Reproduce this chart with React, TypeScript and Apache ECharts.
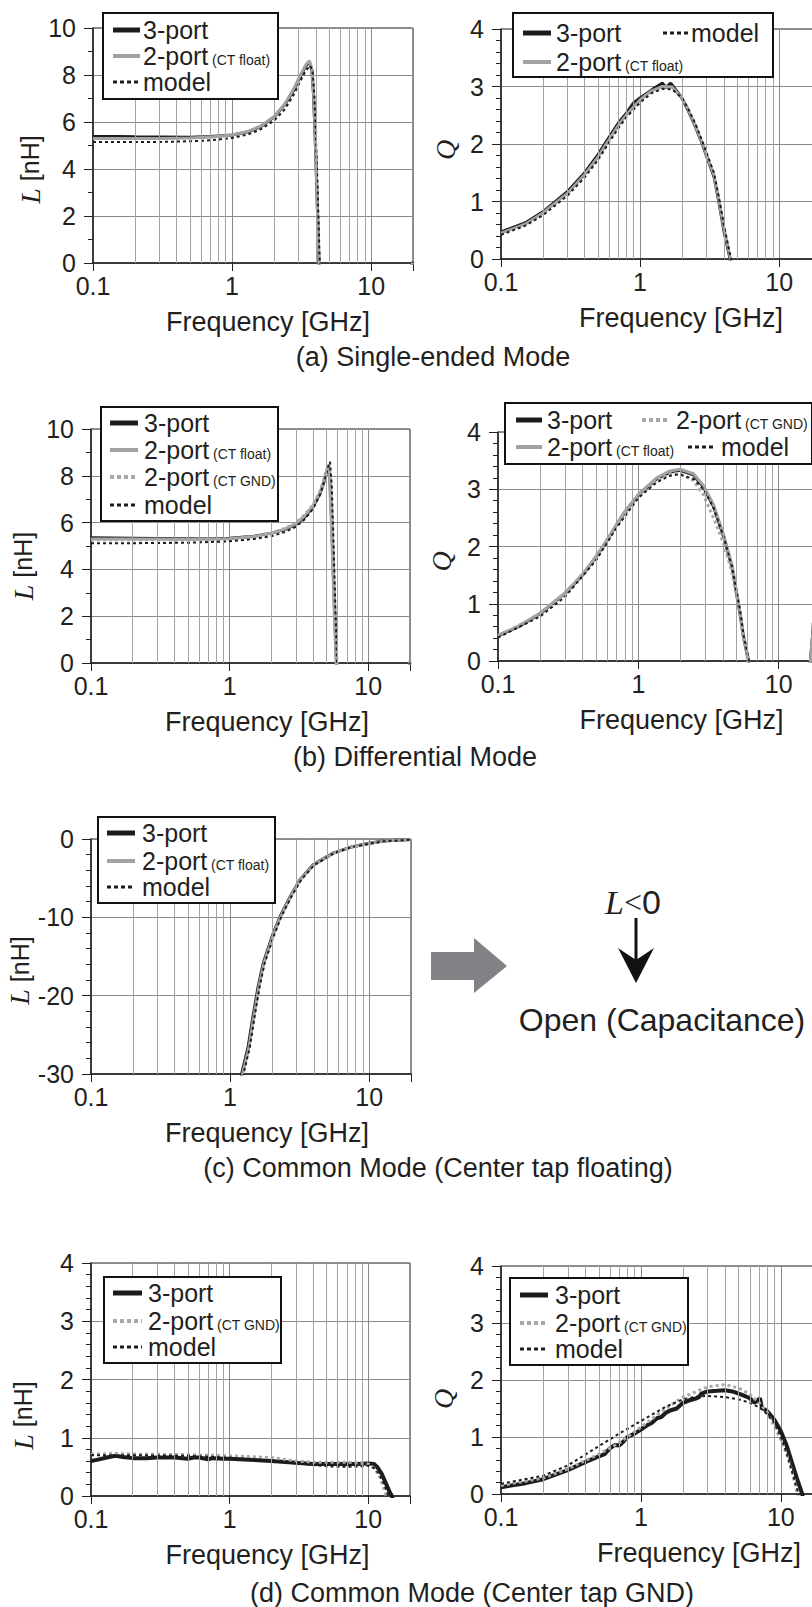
import React, { useEffect, useRef } from 'react';
import * as echarts from 'echarts';

type P = [number, number][];

// ---------- (a) Single-ended mode ----------
const aL_3port: P = [[0.1,5.38],[0.15,5.38],[0.2,5.37],[0.3,5.36],[0.5,5.35],[0.7,5.38],[1,5.45],[1.3,5.58],[1.6,5.8],[2,6.2],[2.4,6.75],[2.8,7.4],[3.1,7.95],[3.4,8.4],[3.6,8.55],[3.75,8.2],[3.85,7.2],[3.95,5.5],[4.05,3.5],[4.15,1.4],[4.25,-0.8],[4.4,-4],[6,-15],[10,-6],[15,-2],[20,0.05]];
const aL_2portFloat: P = [[0.1,5.3],[0.3,5.3],[0.5,5.32],[0.7,5.36],[1,5.45],[1.3,5.6],[1.6,5.82],[2,6.22],[2.4,6.78],[2.8,7.45],[3.1,8.0],[3.4,8.45],[3.6,8.6],[3.75,8.25],[3.85,7.3],[3.95,5.6],[4.05,3.6],[4.15,1.5],[4.25,-0.7],[4.4,-4],[6,-15],[10,-6],[15,-2],[20,0.05]];
const aL_model: P = [[0.1,5.15],[0.3,5.15],[0.5,5.18],[0.7,5.22],[1,5.32],[1.3,5.47],[1.6,5.68],[2,6.05],[2.4,6.55],[2.8,7.2],[3.1,7.75],[3.4,8.2],[3.65,8.4],[3.8,8.1],[3.9,7.2],[4.0,5.6],[4.1,3.6],[4.2,1.5],[4.3,-0.6],[4.45,-4],[6,-15],[10,-6],[15,-2],[20,0.05]];

const aR_3port: P = [[0.1,0.47],[0.15,0.63],[0.2,0.82],[0.3,1.17],[0.4,1.5],[0.5,1.82],[0.6,2.12],[0.7,2.37],[0.8,2.54],[0.9,2.72],[1,2.8],[1.15,2.9],[1.26,2.97],[1.45,3.06],[1.53,2.98],[1.66,3.06],[1.86,2.9],[2.0,2.8],[2.2,2.6],[2.5,2.3],[2.8,2.0],[3.1,1.7],[3.4,1.43],[3.7,0.97],[4.0,0.5],[4.44,0],[4.6,-0.3]];
const aR_2portFloat: P = [[0.1,0.45],[0.15,0.61],[0.2,0.8],[0.3,1.14],[0.4,1.47],[0.5,1.78],[0.6,2.08],[0.7,2.33],[0.8,2.51],[1,2.77],[1.2,2.92],[1.45,3.0],[1.7,2.99],[2.0,2.8],[2.2,2.62],[2.5,2.32],[2.8,2.02],[3.1,1.72],[3.4,1.46],[3.7,1.0],[4.0,0.55],[4.47,0],[4.6,-0.3]];
const aR_model: P = [[0.1,0.42],[0.15,0.58],[0.2,0.76],[0.3,1.1],[0.4,1.42],[0.5,1.73],[0.6,2.03],[0.7,2.28],[0.8,2.47],[1,2.72],[1.2,2.88],[1.45,2.96],[1.7,2.95],[2.0,2.8],[2.2,2.63],[2.5,2.35],[2.8,2.05],[3.1,1.76],[3.4,1.5],[3.7,1.05],[4.0,0.6],[4.5,0],[4.65,-0.3]];

// ---------- (b) Differential mode ----------
const bL_3port: P = [[0.1,5.35],[0.2,5.33],[0.3,5.32],[0.5,5.31],[0.7,5.31],[1,5.33],[1.5,5.42],[2,5.55],[2.5,5.7],[3,5.92],[3.5,6.25],[4,6.68],[4.5,7.26],[4.8,7.75],[5.0,8.1],[5.15,8.42],[5.3,7.8],[5.45,6.0],[5.6,3.8],[5.75,1.8],[5.9,0.1],[6.0,-1.2],[6.3,-5],[8,-15],[12,-6],[20,0.05]];
const bL_2portFloat: P = [[0.1,5.3],[0.2,5.3],[0.5,5.29],[1,5.31],[1.5,5.41],[2,5.55],[2.5,5.72],[3,5.95],[3.5,6.3],[4,6.72],[4.5,7.3],[4.8,7.8],[5.0,8.15],[5.12,8.4],[5.25,7.9],[5.4,6.2],[5.55,4.0],[5.7,1.9],[5.85,0.1],[6.0,-1.5],[6.3,-5],[8,-15],[12,-6],[20,0.05]];
const bL_2portGnd: P = [[0.1,5.27],[0.2,5.27],[0.5,5.27],[1,5.3],[1.5,5.4],[2,5.56],[2.5,5.75],[3,5.98],[3.5,6.35],[4,6.78],[4.5,7.35],[4.8,7.9],[5.0,8.25],[5.2,8.5],[5.35,7.9],[5.5,6.0],[5.65,3.6],[5.8,1.5],[5.95,0],[6.1,-1.5],[6.3,-5],[8,-15],[12,-6],[20,0.05]];
const bL_model: P = [[0.1,5.12],[0.2,5.12],[0.5,5.14],[1,5.2],[1.5,5.3],[2,5.42],[2.5,5.6],[3,5.82],[3.5,6.15],[4,6.6],[4.5,7.2],[4.8,7.75],[5.0,8.1],[5.2,8.5],[5.3,8.6],[5.45,7.6],[5.6,5.4],[5.75,3.0],[5.9,0.8],[6.0,-0.6],[6.3,-5],[8,-15],[12,-6],[20,0.05]];

const bR_3port: P = [[0.1,0.44],[0.14,0.6],[0.2,0.83],[0.3,1.18],[0.4,1.5],[0.5,1.82],[0.6,2.11],[0.7,2.38],[0.8,2.6],[1,2.9],[1.35,3.18],[1.68,3.3],[1.98,3.33],[2.47,3.25],[2.91,3.04],[3.43,2.7],[4.05,2.17],[4.64,1.65],[5.3,0.83],[5.6,0.42],[6.1,0],[7,-2],[12,-3],[16.3,-0.4],[16.8,0],[17.5,0.5],[20,3]];
const bR_2portFloat: P = [[0.1,0.45],[0.14,0.61],[0.2,0.84],[0.3,1.19],[0.4,1.51],[0.5,1.83],[0.6,2.12],[0.7,2.39],[0.8,2.61],[1,2.91],[1.35,3.2],[1.68,3.32],[1.98,3.35],[2.47,3.27],[2.91,3.06],[3.43,2.73],[4.05,2.2],[4.64,1.68],[5.3,0.86],[5.6,0.45],[6.12,0],[7,-2],[12,-3],[16.3,-0.4],[16.8,0],[17.5,0.5],[20,3]];
const bR_2portGnd: P = [[0.1,0.43],[0.2,0.82],[0.3,1.17],[0.5,1.8],[0.7,2.37],[1,2.88],[1.35,3.15],[1.65,3.27],[1.95,3.28],[2.47,3.15],[2.91,2.9],[3.43,2.5],[4.05,2.05],[4.64,1.55],[5.3,0.78],[5.6,0.4],[6.05,0],[7,-2]];
const bR_model: P = [[0.1,0.41],[0.2,0.78],[0.3,1.12],[0.5,1.76],[0.7,2.33],[1,2.85],[1.35,3.12],[1.65,3.23],[1.95,3.26],[2.47,3.18],[2.91,3.0],[3.43,2.68],[4.05,2.17],[4.64,1.65],[5.3,0.88],[5.6,0.47],[6.15,0],[7,-2]];

// ---------- (c) Common mode, center tap floating ----------
const c_3port: P = [[1.1,-38],[1.21,-30],[1.35,-26.5],[1.46,-22.7],[1.59,-18.9],[1.73,-15.9],[2.0,-12.5],[2.29,-9.9],[2.7,-7.4],[3.18,-5.2],[3.96,-3.3],[5.5,-1.8],[7.3,-1.06],[10,-0.55],[12.6,-0.25],[20,-0.05]];
const c_2portFloat: P = [[1.12,-38],[1.23,-30],[1.37,-26.5],[1.48,-22.7],[1.61,-18.9],[1.75,-15.9],[2.02,-12.5],[2.31,-9.9],[2.72,-7.4],[3.2,-5.2],[4.0,-3.3],[5.55,-1.8],[7.35,-1.06],[10,-0.57],[12.6,-0.27],[20,-0.07]];
const c_model: P = [[1.14,-38],[1.25,-30],[1.39,-26.5],[1.5,-22.7],[1.63,-18.9],[1.77,-15.9],[2.05,-12.5],[2.34,-9.9],[2.75,-7.4],[3.25,-5.2],[4.05,-3.3],[5.6,-1.8],[7.4,-1.06],[10,-0.6],[12.6,-0.3],[20,-0.1]];

// ---------- (d) Common mode, center tap GND ----------
const dL_3port: P = [[0.1,0.6],[0.11,0.62],[0.13,0.66],[0.15,0.69],[0.17,0.67],[0.2,0.65],[0.25,0.65],[0.3,0.66],[0.4,0.66],[0.5,0.64],[0.55,0.66],[0.6,0.66],[0.7,0.63],[0.75,0.65],[0.9,0.64],[1,0.64],[1.5,0.62],[2,0.6],[3,0.57],[4,0.55],[5,0.55],[6,0.55],[8,0.55],[10,0.56],[11,0.55],[11.6,0.5],[12.5,0.38],[13.5,0.2],[14.2,0.08],[14.8,0],[15.2,-0.1]];
const dL_2portGnd: P = [[0.1,0.72],[0.15,0.73],[0.2,0.72],[0.5,0.71],[1,0.69],[2,0.66],[3,0.6],[4,0.58],[5,0.58],[7,0.58],[10,0.55],[11,0.48],[12,0.35],[13,0.12],[13.5,0],[14,-0.1]];
const dL_model: P = [[0.1,0.7],[0.2,0.7],[0.5,0.69],[1,0.66],[2,0.61],[3,0.56],[5,0.51],[7,0.5],[9,0.51],[10,0.52],[11,0.48],[12,0.38],[13,0.2],[14,0],[14.5,-0.1]];

const dR_3port: P = [[0.1,0.12],[0.15,0.19],[0.2,0.26],[0.3,0.42],[0.4,0.56],[0.5,0.66],[0.55,0.7],[0.6,0.8],[0.65,0.86],[0.7,0.85],[0.75,0.92],[0.8,1.0],[0.9,1.06],[1.0,1.13],[1.1,1.2],[1.2,1.25],[1.3,1.33],[1.4,1.35],[1.5,1.42],[1.6,1.46],[1.8,1.5],[2.0,1.6],[2.2,1.64],[2.5,1.68],[2.6,1.7],[2.7,1.76],[3,1.8],[3.5,1.81],[4,1.82],[4.5,1.8],[5,1.76],[5.5,1.72],[6,1.68],[6.5,1.6],[7.1,1.68],[7.3,1.52],[8,1.45],[9,1.3],[10,1.1],[11,0.85],[12,0.55],[13,0.28],[14.2,0],[14.5,-0.1]];
const dR_2portGnd: P = [[0.1,0.15],[0.2,0.28],[0.3,0.44],[0.5,0.7],[0.7,0.9],[1,1.17],[1.5,1.5],[2,1.7],[2.5,1.8],[3,1.88],[4,1.92],[5,1.86],[6,1.75],[7,1.6],[8,1.43],[10,0.95],[11,0.7],[12,0.4],[13,0.05],[13.2,0],[13.5,-0.1]];
const dR_model: P = [[0.1,0.18],[0.2,0.32],[0.3,0.5],[0.5,0.84],[0.7,1.06],[1,1.28],[1.5,1.53],[2,1.66],[2.5,1.71],[3,1.72],[4,1.7],[5,1.66],[6,1.6],[7,1.52],[8,1.4],[9,1.25],[10,1.0],[11,0.72],[12,0.4],[13,0.1],[13.4,0],[13.8,-0.1]];

// vertical grid positions (log minor lines)
const minorFreqs = [0.2,0.3,0.4,0.5,0.6,0.7,0.8,0.9,2,3,4,5,6,7,8,9];

const FONT = "'Liberation Sans', Arial, Helvetica, sans-serif";
const SERIF = "'Liberation Serif', 'Times New Roman', serif";
const INK = '#231f20';

const STYLES: Record<string, any> = {
  '3-port': { color: '#1c1c1c', width: 3, type: 'solid' },
  '2-port (CT float)': { color: '#a2a2a2', width: 3, type: 'solid' },
  '2-port (CT GND)': { color: '#a8a8a8', width: 3, type: [3, 3] },
  'model': { color: '#1c1c1c', width: 2, type: [3, 3] },
};
const LEG: Record<string, any> = {
  '3-port': { color: '#1c1c1c', width: 5, dash: null },
  '2-port (CT float)': { color: '#a2a2a2', width: 4, dash: null },
  '2-port (CT GND)': { color: '#a8a8a8', width: 4, dash: [4, 3] },
  'model': { color: '#1c1c1c', width: 3, dash: [4, 3] },
};

const panels = [
  { left: 93, top: 28, width: 320, height: 235, yMin: 0, yMax: 10, yInt: 2, yMinor: 2, yLabel: 'L', nameGap: 46, nameShift: 48, xShift: 30, w3: 3,
    series: [['3-port', aL_3port], ['2-port (CT float)', aL_2portFloat], ['model', aL_model]] },
  { left: 501, top: 29, width: 320, height: 230, yMin: 0, yMax: 4, yInt: 1, yMinor: 5, yLabel: 'Q', nameGap: 42, nameShift: 12, xShift: 40, w3: 3,
    series: [['3-port', aR_3port], ['2-port (CT float)', aR_2portFloat], ['model', aR_model]] },
  { left: 91, top: 429, width: 319, height: 234, yMin: 0, yMax: 10, yInt: 2, yMinor: 2, yLabel: 'L', nameGap: 54, nameShift: 40, xShift: 33, w3: 3,
    series: [['3-port', bL_3port], ['2-port (CT float)', bL_2portFloat], ['2-port (CT GND)', bL_2portGnd], ['model', bL_model]] },
  { left: 498, top: 432, width: 323, height: 229, yMin: 0, yMax: 4, yInt: 1, yMinor: 5, yLabel: 'Q', nameGap: 43, nameShift: 30, xShift: 44, w3: 3,
    series: [['3-port', bR_3port], ['2-port (CT float)', bR_2portFloat], ['2-port (CT GND)', bR_2portGnd], ['model', bR_model]] },
  { left: 91, top: 839, width: 320, height: 235, yMin: -30, yMax: 0, yInt: 10, yMinor: 5, yLabel: 'L', nameGap: 56, nameShift: 28, xShift: 32, w3: 3,
    series: [['3-port', c_3port], ['2-port (CT float)', c_2portFloat], ['model', c_model]] },
  { left: 91, top: 1263, width: 319, height: 233, yMin: 0, yMax: 4, yInt: 1, yMinor: 5, yLabel: 'L', nameGap: 54, nameShift: 72, xShift: 34, w3: 4,
    series: [['3-port', dL_3port], ['2-port (CT GND)', dL_2portGnd], ['model', dL_model]] },
  { left: 501, top: 1266, width: 322, height: 228, yMin: 0, yMax: 4, yInt: 1, yMinor: 5, yLabel: 'Q', nameGap: 44, nameShift: 38, xShift: 74, w3: 4,
    series: [['3-port', dR_3port], ['2-port (CT GND)', dR_2portGnd], ['model', dR_model]] },
];

// legends: box [x0,y0,x1,y1], items [name, sampleX0, sampleX1, textX, rowY]
const legends: { box: number[]; items: [string, number, number, number, number][] }[] = [
  { box: [103, 13, 278, 99], items: [['3-port', 113, 140, 143, 30], ['2-port (CT float)', 113, 140, 143, 56], ['model', 113, 140, 143, 82]] },
  { box: [513, 13, 773, 77], items: [['3-port', 523, 551, 556, 33], ['model', 663, 688, 691, 33], ['2-port (CT float)', 523, 551, 556, 62]] },
  { box: [101, 407, 278, 521], items: [['3-port', 110, 138, 144, 423], ['2-port (CT float)', 110, 138, 144, 450], ['2-port (CT GND)', 110, 138, 144, 477], ['model', 110, 138, 144, 505]] },
  { box: [505, 403, 812, 464], items: [['3-port', 516, 542, 547, 420], ['2-port (CT GND)', 642, 670, 676, 420], ['2-port (CT float)', 516, 542, 547, 447], ['model', 688, 715, 721, 447]] },
  { box: [98, 817, 275, 903], items: [['3-port', 107, 135, 142, 833], ['2-port (CT float)', 107, 135, 142, 861], ['model', 107, 135, 142, 887]] },
  { box: [104, 1277, 281, 1363], items: [['3-port', 113, 142, 148, 1293], ['2-port (CT GND)', 113, 142, 148, 1321], ['model', 113, 142, 148, 1347]] },
  { box: [510, 1278, 688, 1365], items: [['3-port', 520, 548, 555, 1295], ['2-port (CT GND)', 520, 548, 555, 1323], ['model', 520, 548, 555, 1349]] },
];

const captions: [string, number, number][] = [
  ['(a) Single-ended Mode', 433, 357],
  ['(b) Differential Mode', 415, 757],
  ['(c) Common Mode (Center tap floating)', 438, 1168],
  ['(d) Common Mode (Center tap GND)', 472, 1593],
];

function xLabel(v: number) {
  const lg = Math.log10(v);
  if (Math.abs(lg - Math.round(lg)) > 1e-6) return '';
  const r = Math.round(lg);
  if (r === -1) return '0.1';
  if (r === 0) return '1';
  if (r === 1) return '10';
  return '';
}

function buildOption() {
  const grid: any[] = [];
  const xAxis: any[] = [];
  const yAxis: any[] = [];
  const series: any[] = [];
  const graphic: any[] = [];

  panels.forEach((p, i) => {
    grid.push({ left: p.left, top: p.top, width: p.width, height: p.height, show: true, borderColor: INK, borderWidth: 1,
      backgroundColor: 'transparent', containLabel: false, outerBoundsMode: 'none' });
    xAxis.push({
      type: 'log', logBase: 10, gridIndex: i, min: 0.1, max: 20,
      axisLine: { show: true, onZero: false, lineStyle: { color: INK, width: 1.5 } },
      axisTick: { show: true, length: 8, lineStyle: { color: INK, width: 1 } },
      minorTick: { show: false },
      splitLine: { show: true, lineStyle: { color: '#8a8a8a', width: 1 } },
      axisLabel: { formatter: xLabel, margin: 10, fontSize: 25, fontFamily: FONT, color: INK },
      name: 'Frequency [GHz]', nameLocation: 'middle', nameGap: 45,
      nameTextStyle: { fontSize: 27, fontFamily: FONT, color: INK, padding: [0, 0, 0, p.xShift] },
    });
    yAxis.push({
      type: 'value', gridIndex: i, min: p.yMin, max: p.yMax, interval: p.yInt,
      axisLine: { show: true, onZero: false, lineStyle: { color: INK, width: 1.5 } },
      axisTick: { show: true, length: 9, lineStyle: { color: INK, width: 1 } },
      minorTick: { show: true, splitNumber: p.yMinor, length: 5, lineStyle: { color: INK, width: 1 } },
      splitLine: { show: true, lineStyle: { color: '#8a8a8a', width: 1 } },
      axisLabel: { margin: 17, fontSize: 25, fontFamily: FONT, color: INK },
      name: p.yLabel === 'L' ? '{i|L} [nH]' : '{i|Q}',
      nameLocation: 'middle', nameRotate: 90, nameGap: p.nameGap,
      nameTextStyle: { fontSize: 25, fontFamily: FONT, color: INK, padding: [0, p.nameShift, 0, 0],
        rich: { i: { fontFamily: SERIF, fontStyle: 'italic', fontSize: 28, color: INK } } },
    });
    // helper series carrying the vertical minor grid lines
    series.push({
      type: 'line', xAxisIndex: i, yAxisIndex: i, data: [[1, p.yMin]], showSymbol: false, symbol: 'none',
      lineStyle: { opacity: 0 }, silent: true, z: 1,
      markLine: { silent: true, symbol: ['none', 'none'], label: { show: false },
        lineStyle: { color: '#a3a3a3', width: 1, type: 'solid' },
        emphasis: { disabled: true },
        data: minorFreqs.map((f) => ({ xAxis: f })) },
    });
    (p.series as [string, P][]).forEach(([name, data]) => {
      const st = STYLES[name];
      const w = name === '3-port' ? p.w3 : st.width;
      series.push({
        type: 'line', name, xAxisIndex: i, yAxisIndex: i, data, symbol: 'none', showSymbol: false,
        clip: true, z: 3, lineStyle: { color: st.color, width: w, type: st.type }, itemStyle: { color: st.color },
      });
    });
  });

  // legends
  legends.forEach((lg) => {
    const [x0, y0, x1, y1] = lg.box;
    graphic.push({ type: 'rect', z: 100, shape: { x: x0, y: y0, width: x1 - x0, height: y1 - y0 }, style: { fill: '#fff', stroke: '#111', lineWidth: 2 } });
    lg.items.forEach(([name, sx0, sx1, tx, ry]) => {
      const ls = LEG[name];
      graphic.push({ type: 'line', z: 101, shape: { x1: sx0, y1: ry, x2: sx1, y2: ry }, style: { stroke: ls.color, lineWidth: ls.width, lineDash: ls.dash || undefined } });
      const m = name.match(/^(\S+)\s*(\(.*\))?$/);
      const main = m ? m[1] : name;
      const sub = m && m[2] ? m[2] : '';
      graphic.push({ type: 'text', z: 101, x: tx, y: ry, style: { text: main, fontSize: 25, fontFamily: FONT, fill: INK, align: 'left', verticalAlign: 'middle' } });
      if (sub) {
        graphic.push({ type: 'text', z: 101, x: tx + 69, y: ry + 10.5, style: { text: sub, fontSize: 14, fontFamily: FONT, fill: INK, align: 'left', verticalAlign: 'bottom' } });
      }
    });
  });

  captions.forEach(([t, x, y]) => {
    graphic.push({ type: 'text', z: 100, x, y, style: { text: t, fontSize: 27, fontFamily: FONT, fill: INK, align: 'center', verticalAlign: 'middle' } });
  });

  // block arrow
  graphic.push({ type: 'polygon', z: 100, shape: { points: [[431, 952], [474, 952], [474, 938], [507, 966], [474, 993], [474, 980], [431, 980]] }, style: { fill: '#808285' } });
  // L<0 annotation
  graphic.push({ type: 'text', z: 100, x: 633, y: 902, style: {
    text: '{i|L}{s|<}{n|0}', align: 'center', verticalAlign: 'middle', fill: INK,
    rich: { i: { fontFamily: SERIF, fontStyle: 'italic', fontSize: 34, fill: INK }, s: { fontFamily: SERIF, fontSize: 32, fill: INK }, n: { fontFamily: FONT, fontSize: 34, fill: INK } } } });
  graphic.push({ type: 'line', z: 100, shape: { x1: 636, y1: 918, x2: 636, y2: 962 }, style: { stroke: '#111', lineWidth: 3 } });
  graphic.push({ type: 'polygon', z: 100, shape: { points: [[618, 948], [636, 960], [654, 948], [636, 983]] }, style: { fill: '#111' } });
  graphic.push({ type: 'text', z: 100, x: 662, y: 1020, style: { text: 'Open (Capacitance)', fontSize: 32, fontFamily: FONT, fill: INK, align: 'center', verticalAlign: 'middle' } });

  return { animation: false, backgroundColor: '#fff', textStyle: { fontFamily: FONT }, grid, xAxis, yAxis, series, graphic };
}

export default function App() {
  const ref = useRef<HTMLDivElement>(null);
  useEffect(() => {
    if (!ref.current) return;
    const chart = echarts.init(ref.current, undefined, { renderer: 'svg' });
    chart.setOption(buildOption() as any);
    return () => chart.dispose();
  }, []);
  return <div ref={ref} style={{ position: 'absolute', left: 0, top: 0, width: 812, height: 1607 }} />;
}
